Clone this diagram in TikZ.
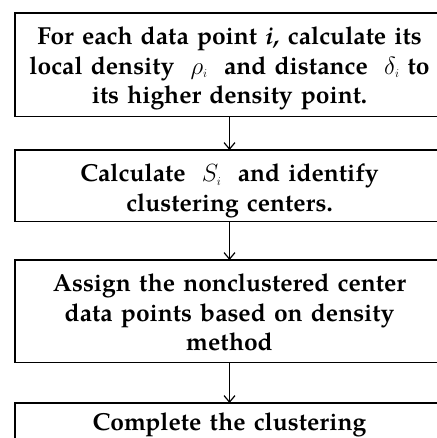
\documentclass[tikz,border=0pt]{standalone}
\usepackage{fontspec}
\setmainfont{TeX Gyre Pagella}
\usetikzlibrary{arrows.meta}
\newcommand{\topstrut}[1]{\rule{0pt}{#1}}
\newcommand{\botstrut}[1]{\rule[-#1]{0pt}{0pt}}
\tikzset{
  stepbox/.style={minimum width=429pt, inner sep=0pt,
    anchor=north, font=\fontsize{24.6}{29.5}\selectfont\bfseries, align=center,
    text width=425pt},
  frame/.style={line width=1.6pt},
  flow/.style={-{Straight Barb[length=6.5pt,width=11pt]}, line width=1.2pt}
}
\begin{document}
\begin{tikzpicture}[x=1pt,y=-1pt]
\useasboundingbox (0,0) rectangle (436,438);
\node[stepbox] (s1) at (229.5,13)
  {\topstrut{31.5pt}For each data point \textit{i,} calculate its\\
   local density \ $\rho_{\scriptscriptstyle i}$ \ and distance \ $\delta_{\scriptscriptstyle i}$ to\\
   its higher density point.\botstrut{12.5pt}};
\node[stepbox] (s2) at (229.5,150)
  {\topstrut{31.5pt}Calculate \ $S_{\scriptscriptstyle i}$ \ and identify\\
   clustering centers.\botstrut{10pt}};
\node[stepbox] (s3) at (229.5,260)
  {\topstrut{31.5pt}Assign the nonclustered center\\
   data points based on density\\
   method\botstrut{11.5pt}};
\node[stepbox] (s4) at (229.5,403)
  {\topstrut{27.5pt}Complete the clustering\botstrut{45pt}};
\foreach \b in {s1,s2,s3}
  \draw[frame] ([xshift=423pt]\b.north west) -- (\b.north west)
    -- (\b.south west) -- ([xshift=423pt]\b.south west);
\draw[frame] ([xshift=423pt]s4.north west) -- (s4.north west)
  -- ([yshift=-40pt]s4.north west);
\draw[flow] (s1.south) -- (s2.north);
\draw[flow] (s2.south) -- (s3.north);
\draw[flow] (s3.south) -- (s4.north);
\end{tikzpicture}
\end{document}
